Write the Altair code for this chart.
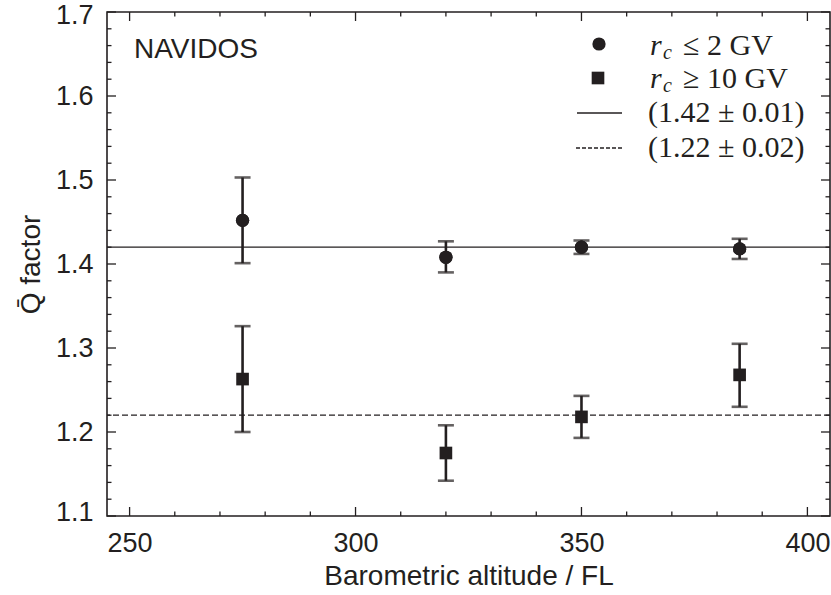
import altair as alt
import pandas as pd

# ---- data ----
alt_fl = [275, 320, 350, 385]
q_low_rc = [1.452, 1.408, 1.420, 1.418]
q_low_rc_lo = [1.401, 1.390, 1.412, 1.406]
q_low_rc_hi = [1.503, 1.427, 1.428, 1.430]

q_high_rc = [1.263, 1.175, 1.218, 1.268]
q_high_rc_lo = [1.200, 1.142, 1.193, 1.230]
q_high_rc_hi = [1.326, 1.208, 1.243, 1.305]

fit_low = 1.42
fit_high = 1.22

x_major = [250, 300, 350, 400]
x_minor = [260, 270, 280, 290, 310, 320, 330, 340, 360, 370, 380, 390]
y_major = [1.1, 1.2, 1.3, 1.4, 1.5, 1.6, 1.7]
y_minor = [1.12, 1.14, 1.16, 1.18, 1.22, 1.24, 1.26, 1.28, 1.32, 1.34, 1.36, 1.38,
           1.42, 1.44, 1.46, 1.48, 1.52, 1.54, 1.56, 1.58, 1.62, 1.64, 1.66, 1.68]

legend_rc_low = "≤ 2 GV"
legend_rc_high = "≥ 10 GV"
legend_fit_low = "(1.42 ± 0.01)"
legend_fit_high = "(1.22 ± 0.02)"

INK = "#231f20"
W, H = 723, 504
SANS = "Liberation Sans"
SERIF = "Liberation Serif"

xs = alt.Scale(domain=[245, 405], nice=False, zero=False)
ys = alt.Scale(domain=[1.1, 1.7], nice=False, zero=False)

low = pd.DataFrame({"x": alt_fl, "q": q_low_rc, "lo": q_low_rc_lo, "hi": q_low_rc_hi})
high = pd.DataFrame({"x": alt_fl, "q": q_high_rc, "lo": q_high_rc_lo, "hi": q_high_rc_hi})

X = alt.X("x:Q", scale=xs,
          axis=alt.Axis(values=x_major, title="Barometric altitude / FL", format="d"))
Y = alt.Y("q:Q", scale=ys,
          axis=alt.Axis(values=y_major, title="Q\u0304 factor", format=".1f"))

base_low = alt.Chart(low)
base_high = alt.Chart(high)

# horizontal fit lines
fit_solid = alt.Chart(pd.DataFrame({"q": [fit_low]})).mark_rule(
    color=INK, strokeWidth=1.3).encode(y=alt.Y("q:Q", scale=ys))
fit_dash = alt.Chart(pd.DataFrame({"q": [fit_high]})).mark_rule(
    color=INK, strokeWidth=1.3, strokeDash=[6, 3]).encode(y=alt.Y("q:Q", scale=ys))

# frame ticks (inward)
def xticks(vals, length):
    d = alt.Chart(pd.DataFrame({"x": vals}))
    b = d.mark_rule(color=INK, strokeWidth=1.3).encode(
        x=alt.X("x:Q", scale=xs), y=alt.value(H), y2=alt.value(H - length))
    t = d.mark_rule(color=INK, strokeWidth=1.3).encode(
        x=alt.X("x:Q", scale=xs), y=alt.value(0), y2=alt.value(length))
    return b + t

def yticks(vals, length):
    d = alt.Chart(pd.DataFrame({"q": vals}))
    l = d.mark_rule(color=INK, strokeWidth=1.3).encode(
        y=alt.Y("q:Q", scale=ys), x=alt.value(0), x2=alt.value(length))
    r = d.mark_rule(color=INK, strokeWidth=1.3).encode(
        y=alt.Y("q:Q", scale=ys), x=alt.value(W), x2=alt.value(W - length))
    return l + r

ticks = xticks(x_major, 9) + xticks(x_minor, 4.5) + yticks(y_major, 9) + yticks(y_minor, 4.5)

def errorbars(base):
    bar = base.mark_rule(color=INK, strokeWidth=2.6).encode(
        x=alt.X("x:Q", scale=xs), y=alt.Y("lo:Q", scale=ys), y2="hi:Q")
    cap_lo = base.mark_tick(color=INK, orient="horizontal", size=16, thickness=2.6).encode(
        x=alt.X("x:Q", scale=xs), y=alt.Y("lo:Q", scale=ys))
    cap_hi = base.mark_tick(color=INK, orient="horizontal", size=16, thickness=2.6).encode(
        x=alt.X("x:Q", scale=xs), y=alt.Y("hi:Q", scale=ys))
    return bar + cap_lo + cap_hi

pts_low = base_low.mark_point(shape="circle", filled=True, size=175, color=INK, opacity=1).encode(x=X, y=Y)
pts_high = base_high.mark_point(shape="square", filled=True, size=160, color=INK, opacity=1).encode(x=X, y=Y)

# annotation text
one = alt.Chart(pd.DataFrame({"k": [0]}))
navidos = one.mark_text(text="NAVIDOS", font=SANS, fontSize=28, color=INK,
                        align="left", baseline="alphabetic").encode(
    x=alt.value(27), y=alt.value(46))

# legend
leg_c = one.mark_point(shape="circle", filled=True, size=175, color=INK, opacity=1).encode(
    x=alt.value(492), y=alt.value(32))
leg_s = one.mark_point(shape="square", filled=True, size=160, color=INK, opacity=1).encode(
    x=alt.value(491), y=alt.value(66))
leg_l1 = one.mark_rule(color=INK, strokeWidth=1.3).encode(
    x=alt.value(470), x2=alt.value(515), y=alt.value(101))
leg_l2 = one.mark_rule(color=INK, strokeWidth=1.3, strokeDash=[4, 2]).encode(
    x=alt.value(469), x2=alt.value(516), y=alt.value(136))

def rc_label(txt, y):
    r = one.mark_text(text="r", font=SERIF, fontStyle="italic", fontSize=30, color=INK,
                      align="left", baseline="alphabetic").encode(x=alt.value(543), y=alt.value(y))
    c = one.mark_text(text="c", font=SERIF, fontStyle="italic", fontSize=20, color=INK,
                      align="left", baseline="alphabetic").encode(x=alt.value(556), y=alt.value(y + 4))
    rest = one.mark_text(text=txt, font=SERIF, fontSize=30, color=INK,
                         align="left", baseline="alphabetic").encode(x=alt.value(576), y=alt.value(y))
    return r + c + rest

def fit_label(txt, y):
    return one.mark_text(text=txt, font=SERIF, fontSize=30, color=INK,
                         align="left", baseline="alphabetic").encode(x=alt.value(541), y=alt.value(y))

legend = (leg_c + leg_s + leg_l1 + leg_l2 + rc_label(legend_rc_low, 43) + rc_label(legend_rc_high, 76)
          + fit_label(legend_fit_low, 110) + fit_label(legend_fit_high, 145))

chart = alt.layer(
    pts_low,  # first layer carries the axes
    fit_solid, fit_dash, ticks,
    errorbars(base_low), errorbars(base_high),
    pts_high, pts_low,
    navidos, legend,
).properties(
    width=W, height=H,
    autosize=alt.AutoSizeParams(type="none"),
    padding={"left": 107, "top": 12, "right": 1, "bottom": 79},
).configure_view(
    stroke=INK, strokeWidth=1.6
).configure_axis(
    grid=False, ticks=False, domain=False,
    labelFont=SANS, labelFontSize=27, labelColor=INK, labelPadding=14,
    titleFont=SANS, titleFontSize=28, titleFontWeight="normal", titleColor=INK,
    labelFlush=False,
).configure_axisX(titlePadding=6).configure_axisY(
    titlePadding=10, labelFlush=True, labelFlushOffset=10)

chart.save("out.html", embed_options={"renderer": "svg", "actions": False})
